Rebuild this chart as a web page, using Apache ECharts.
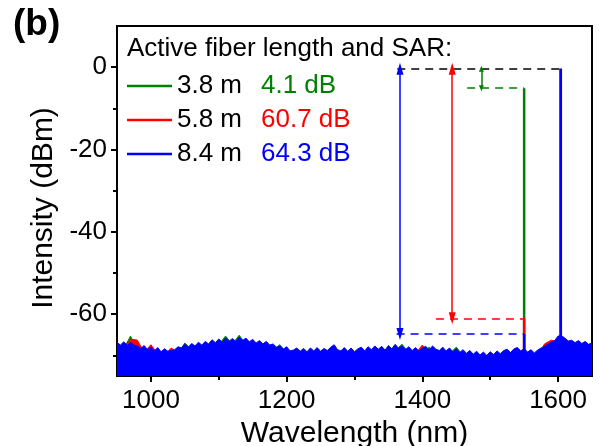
<!DOCTYPE html>
<html>
<head>
<meta charset="utf-8">
<script src="https://cdn.jsdelivr.net/npm/echarts@6/dist/echarts.min.js"></script>
<style>
	html, body { margin: 0; padding: 0; background: #fff; }
	#chart { width: 600px; height: 446px; }
</style>
</head>
<body>
<div id="chart"></div>
<script>
// wavelength axis (nm) and intensity axis (dBm)
const X_MIN = 950;
const X_MAX = 1650;
const Y_MIN = -75;
const Y_MAX = 10;
const xTicks = [1000, 1200, 1400, 1600];
const xMinorTicks = [1100, 1300, 1500];
const yTicks = [-60, -40, -20, 0];
const yMinorTicks = [-70, -50, -30, -10];

const fiberLengths = ["3.8 m", "5.8 m", "8.4 m"];
const sarValues = ["4.1", "60.7", "64.3"];
const colors = ["#008000", "#ff0000", "#0000ff"];

// noise floor
const blueStart = 950;
const blueStep = 5;
const blueNoise = [
	-66.8, -67.5, -66.7, -67.6, -66.9, -67.5, -67.7, -68.3, -67.6, -68.6,
	-68.0, -68.9, -68.1, -69.1, -68.4, -69.0, -68.8, -68.6, -67.9, -68.2,
	-67.3, -68.0, -67.1, -67.7, -66.8, -67.5, -66.6, -67.2, -66.2, -66.9,
	-66.0, -66.8, -65.8, -66.6, -65.9, -66.6, -65.6, -66.4, -65.8, -66.7,
	-66.1, -67.0, -66.4, -67.2, -66.6, -67.5, -67.2, -68.0, -67.8, -68.5,
	-67.9, -68.9, -68.7, -68.2, -69.0, -68.3, -69.1, -68.2, -68.9, -68.1,
	-69.0, -68.3, -68.8, -68.0, -67.4, -68.6, -68.9, -68.1, -69.0, -68.2,
	-69.1, -68.4, -68.0, -68.9, -67.9, -68.6, -67.7, -68.5, -67.8, -68.7,
	-67.6, -68.4, -67.3, -68.3, -67.7, -68.6, -67.9, -68.8, -68.1, -69.0,
	-68.2, -67.8, -68.7, -67.7, -68.5, -68.8, -68.0, -68.9, -68.2, -69.1,
	-68.4, -69.3, -68.6, -69.5, -68.8, -69.7, -69.0, -69.9, -69.2, -70.0,
	-69.1, -69.8, -68.9, -69.6, -68.8, -68.5, -69.3, -68.4, -68.1, -68.9,
	-68.3, -69.2, -68.6, -69.4, -68.7, -68.2, -67.8, -67.3, -66.8, -66.4,
	-65.3, -65.2, -65.8, -66.5, -66.3, -66.9, -66.4, -67.1, -66.6, -67.3,
	-66.9,
];

const greenStart = 950;
const greenStep = 10;
const greenNoise = [
	-68.4, -68.3, -65.3, -69.2, -69.3, -69.5, -69.6, -69.9, -70.2, -69.4,
	-67.0, -68.6, -68.3, -68.0, -67.6, -67.4, -65.3, -67.3, -65.1, -67.2,
	-67.5, -67.8, -68.0, -68.6, -67.4, -69.3, -70.1, -70.0, -70.1, -69.9,
	-70.0, -69.8, -69.0, -69.9, -70.0, -70.1, -69.4, -69.3, -69.1, -69.2,
	-69.0, -68.8, -67.3, -69.3, -69.5, -69.6, -68.0, -69.5, -69.4, -69.6,
	-68.0, -70.0, -70.2, -70.4, -70.6, -70.5, -70.3, -70.2, -70.3, -69.5,
	-69.7, -70.0, -70.1, -69.2, -68.2, -66.7, -67.2, -67.7, -67.8, -68.0,
	-68.2,
];

const redStart = 950;
const redStep = 10;
const redNoise = [
	-68.5, -68.4, -66.0, -66.3, -69.2, -67.4, -69.6, -69.9, -68.2, -69.5,
	-68.8, -68.6, -68.3, -68.0, -67.6, -67.4, -67.2, -67.3, -67.0, -67.2,
	-67.5, -67.8, -68.0, -68.6, -69.2, -69.3, -70.1, -70.0, -70.1, -69.9,
	-70.0, -69.8, -69.0, -69.9, -70.0, -70.1, -69.4, -69.3, -69.1, -69.2,
	-69.0, -68.8, -69.1, -69.3, -69.5, -67.5, -69.8, -69.5, -69.4, -69.6,
	-69.8, -70.0, -70.2, -70.4, -70.6, -70.5, -70.3, -70.2, -70.3, -69.5,
	-69.7, -70.0, -70.1, -67.2, -66.3, -66.7, -67.2, -67.7, -67.8, -68.0,
	-68.2,
];

// laser lines [wavelength, peak dBm]
const greenPeaks = [[1550, -5.1], [1604, -0.4]];
const redPeaks = [[1550, -61.0], [1604, -0.4]];
const bluePeaks = [[1550, -64.8], [1604, -0.4]];

// SAR annotation: reference level, per-fibre level, dashed span and arrow position
const refLevel = -0.4;
const refSpan = [1363, 1604];
const sarLevels = [-5.1, -61.0, -64.8];
const sarSpans = [[1466, 1550], [1420, 1550], [1362, 1550]];
const arrowX = [1487, 1444, 1367];

const FONT = "Liberation Sans, Arial, sans-serif";

const toPairs = (start, step, values) => values.map((v, i) => [start + i * step, v]);
const peakLines = (peaks) => peaks.flatMap(([w, v]) => [[w, Y_MIN], [w, v], [w, "-"]]);

const noiseSeries = (i, start, step, values) => ({
	name      : fiberLengths[i],
	type      : "line",
	z         : 2 + i,
	data      : toPairs(start, step, values),
	symbol    : "none",
	lineStyle : { color: colors[i], width: 1 },
	itemStyle : { color: colors[i] },
	areaStyle : { origin: "start", color: colors[i], opacity: 1 },
	silent    : true,
});

const peakSeries = (i, peaks) => ({
	name      : fiberLengths[i],
	type      : "line",
	z         : 2 + i,
	data      : peakLines(peaks),
	symbol    : "none",
	lineStyle : { color: colors[i], width: 2.5 },
	itemStyle : { color: colors[i] },
	silent    : true,
});

const annotation = (color, lines) => ({
	type     : "line",
	z        : 6,
	data     : [],
	silent   : true,
	markLine : {
		silent    : true,
		animation : false,
		label     : { show: false },
		emphasis  : { disabled: true },
		data      : lines.map(l => [
			{ coord: l.from, symbol: l.sym, symbolSize: l.size, lineStyle: l.style },
			{ coord: l.to, symbol: l.sym, symbolSize: l.size, lineStyle: l.style },
		]),
		lineStyle: { color, width: 1.5 },
	},
});

const dash = (color, from, to) => ({
	from, to, sym: "none", size: 0,
	style: { color, width: 1.5, type: [8, 6] },
});
const arrow = (color, x, y0, y1, size) => ({
	from: [x, y0], to: [x, y1], sym: "triangle", size,
	style: { color, width: 1.5, type: "solid" },
});

const chart = echarts.init(document.getElementById("chart"), null, { renderer: "canvas" });

chart.setOption({
	animation : false,
	textStyle : { fontFamily: FONT, color: "#000" },
	title     : [
		{ text: "(b)", left: 13, top: 6, padding: 0, textStyle: { fontFamily: FONT, fontSize: 37, fontWeight: "bold", color: "#000" } },
		{ text: "Active fiber length and SAR:", left: 127, top: 36, padding: 0, textStyle: { fontFamily: FONT, fontSize: 26, fontWeight: "normal", color: "#000" } },
	],
	legend: {
		data        : fiberLengths,
		orient      : "vertical",
		left        : 127,
		top         : 73,
		padding     : 0,
		itemGap     : 8,
		itemWidth   : 45,
		itemHeight  : 2.5,
		icon        : "rect",
		selectedMode: false,
		formatter   : name => {
			const i = fiberLengths.indexOf(name);
			return `{n|${name}}{s${i}|${sarValues[i]} dB}`;
		},
		textStyle: {
			fontFamily : FONT,
			fontSize   : 26,
			lineHeight : 26,
			rich       : {
				n  : { width: 84, fontSize: 26, fontFamily: FONT, color: "#000" },
				s0 : { fontSize: 26, fontFamily: FONT, color: colors[0] },
				s1 : { fontSize: 26, fontFamily: FONT, color: colors[1] },
				s2 : { fontSize: 26, fontFamily: FONT, color: colors[2] },
			},
		},
	},
	grid: {
		left           : 117,
		right          : 8,
		top            : 26,
		bottom         : 70,
		show           : true,
		borderColor    : "#000",
		borderWidth    : 2,
		outerBoundsMode: "none",
	},
	xAxis: [
		{
			type         : "value",
			min          : X_MIN,
			max          : X_MAX,
			name         : "Wavelength (nm)",
			nameLocation : "middle",
			nameGap      : 34,
			nameTextStyle: { fontFamily: FONT, fontSize: 30, color: "#000" },
			axisLine     : { onZero: false, lineStyle: { color: "#000", width: 2 } },
			axisTick     : { customValues: xTicks, length: 6, lineStyle: { color: "#000", width: 2 } },
			axisLabel    : { customValues: xTicks, formatter: v => String(v), margin: 12, fontFamily: FONT, fontSize: 26, color: "#000" },
			splitLine    : { show: false },
		},
		{
			type      : "value",
			min       : X_MIN,
			max       : X_MAX,
			position  : "bottom",
			axisLine  : { show: false, onZero: false },
			axisTick  : { customValues: xMinorTicks, length: 4, lineStyle: { color: "#000", width: 2 } },
			axisLabel : { show: false },
			splitLine : { show: false },
		},
	],
	yAxis: [
		{
			type         : "value",
			min          : Y_MIN,
			max          : Y_MAX,
			name         : "Intensity (dBm)",
			nameLocation : "middle",
			nameGap      : 54,
			nameTextStyle: { fontFamily: FONT, fontSize: 30, color: "#000", padding: [0, 14, 0, 0] },
			axisLine     : { show: true, onZero: false, lineStyle: { color: "#000", width: 2 } },
			axisTick     : { show: true, customValues: yTicks, length: 6, lineStyle: { color: "#000", width: 2 } },
			axisLabel    : { customValues: yTicks, margin: 10, fontFamily: FONT, fontSize: 26, color: "#000" },
			splitLine    : { show: false },
		},
		{
			type      : "value",
			min       : Y_MIN,
			max       : Y_MAX,
			position  : "left",
			axisLine  : { show: false, onZero: false },
			axisTick  : { show: true, customValues: yMinorTicks, length: 4, lineStyle: { color: "#000", width: 2 } },
			axisLabel : { show: false },
			splitLine : { show: false },
		},
	],
	series: [
		noiseSeries(0, greenStart, greenStep, greenNoise),
		peakSeries(0, greenPeaks),
		noiseSeries(1, redStart, redStep, redNoise),
		peakSeries(1, redPeaks),
		noiseSeries(2, blueStart, blueStep, blueNoise),
		peakSeries(2, bluePeaks),
		annotation("#000", [dash("#000", [refSpan[0], refLevel], [refSpan[1], refLevel])]),
		annotation(colors[0], [
			dash(colors[0], [sarSpans[0][0], sarLevels[0]], [sarSpans[0][1], sarLevels[0]]),
			arrow(colors[0], arrowX[0], refLevel, sarLevels[0], [5, 6]),
		]),
		annotation(colors[1], [
			dash(colors[1], [sarSpans[1][0], sarLevels[1]], [sarSpans[1][1], sarLevels[1]]),
			arrow(colors[1], arrowX[1], refLevel, sarLevels[1], [7, 12]),
		]),
		annotation(colors[2], [
			dash(colors[2], [sarSpans[2][0], sarLevels[2]], [sarSpans[2][1], sarLevels[2]]),
			arrow(colors[2], arrowX[2], refLevel, sarLevels[2], [7, 12]),
		]),
	],
});
</script>
</body>
</html>
